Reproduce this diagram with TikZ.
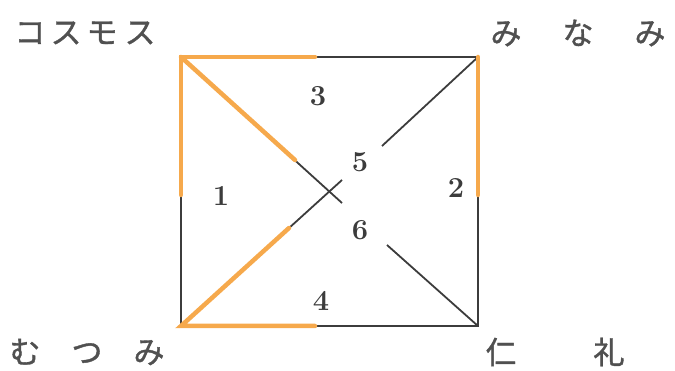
\documentclass[tikz,border=0pt]{standalone}
\usepackage{fontspec}
\newfontfamily\jp{Noto Sans CJK JP}[FakeBold=1.2]
\definecolor{hl}{HTML}{F6A94C}
\definecolor{ink}{HTML}{3C3C3C}
\begin{document}
\begin{tikzpicture}[x=1pt,y=-1pt,
  edge/.style={draw=ink,line width=1.8pt},
  hilite/.style={draw=hl,line width=4.5pt,line cap=round},
  num/.style={font=\fontsize{29}{29}\selectfont\bfseries,text=ink,inner sep=0pt},
  place/.style={font=\jp\fontsize{31}{31}\selectfont,text=ink!90,inner sep=0pt}]
\useasboundingbox (0,0) rectangle (675,371);
\coordinate (TL) at (181,57);
\coordinate (TR) at (478,57);
\coordinate (BL) at (181,326);
\coordinate (BR) at (478,326);
% diagonal segment ends
\coordinate (a1) at (342,203);
\coordinate (a2) at (387,245);
\coordinate (b1) at (342,180);
\coordinate (b2) at (382,146);
% highlight ends
\coordinate (ht) at (315,57);
\coordinate (hl) at (181,195);
\coordinate (hd) at (295,160);
\coordinate (hr) at (478,195);
\coordinate (hb) at (315,326);
\coordinate (he) at (289,228);
% square and diagonals
\draw[edge] (TL) -- (TR) -- (BR) -- (BL) -- cycle;
\draw[edge] (TL) -- (a1);
\draw[edge] (a2) -- (BR);
\draw[edge] (BL) -- (b1);
\draw[edge] (b2) -- (TR);
% orange highlights
\draw[hilite] (hl) -- (TL) -- (ht);
\draw[hilite] (TL) -- (hd);
\draw[hilite] (TR) -- (hr);
\draw[hilite] (he) -- (BL) -- (hb);
% numbers
\node[num] (n3) at (318,96) {3};
\node[num] (n5) at (360,162) {5};
\node[num] (n1) at (221,196) {1};
\node[num] (n2) at (456,188) {2};
\node[num] (n6) at (360,230) {6};
\node[num] (n4) at (321,301) {4};
% place names
\node[place] (cosmos) at (86,33) {\makebox[36pt]{コ}\makebox[36pt]{ス}\makebox[36pt]{モ}\makebox[40pt]{ス}};
\node[place] (minami) at (578,33) {\makebox[72pt]{み}\makebox[72pt]{な}\makebox[72pt]{み}};
\node[place] (mutsumi) at (87,352) {\makebox[62pt]{む}\makebox[62pt]{つ}\makebox[62pt]{み}};
\node[place] (jin) at (501,352) {仁};
\node[place] (rei) at (609,352) {礼};
\end{tikzpicture}
\end{document}
